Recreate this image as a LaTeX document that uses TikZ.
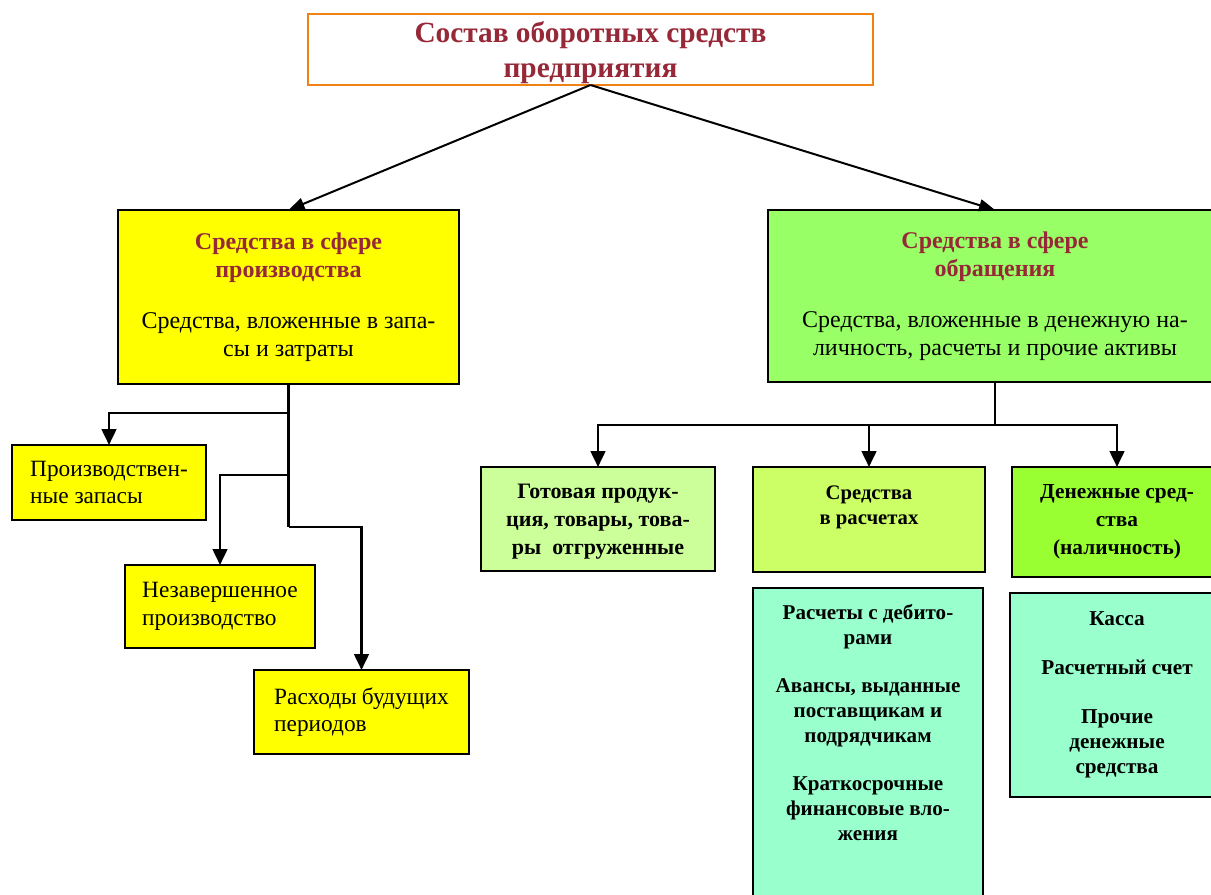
\documentclass[tikz,border=0pt]{standalone}
\usepackage{fontspec}
\setmainfont{Liberation Serif}
\usepackage{xcolor}
\usepackage{tikz}
\usetikzlibrary{arrows.meta}
\usetikzlibrary{calc}
\usetikzlibrary{positioning}

\definecolor{titleorange}{RGB}{240,130,20}
\definecolor{headred}{RGB}{150,40,55}
\definecolor{prodyellow}{RGB}{255,255,0}
\definecolor{circgreen}{RGB}{153,255,102}
\definecolor{gotgreen}{RGB}{204,255,153}
\definecolor{raschgreen}{RGB}{204,255,102}
\definecolor{dengreen}{RGB}{153,255,51}
\definecolor{listgreen}{RGB}{153,255,204}

\newcommand{\headfont}{\color{headred}\bfseries\fontsize{18}{21}\selectfont}

\tikzset{
  topline/.style={-{Triangle[length=12pt,width=9pt]}, line width=1.5pt},
  treeline/.style={-{Triangle[length=12pt,width=11pt]}, line width=2pt}
}

\begin{document}
\begin{tikzpicture}[x=0.75pt,y=-0.75pt,semithick]
 				 \tikzstyle{every node}=[outer sep=0pt]
 				 \tikzstyle{box}=[draw=black, line width=1.4pt, inner sep=0pt]
 				 \tikzstyle{bigbox}=[box, font=\fontsize{18}{21}\selectfont, align=center]
 				 \tikzstyle{smalltext}=[font=\fontsize{17.5}{20.5}\selectfont, align=left]
 				 \tikzstyle{boldtext}=[font=\fontsize{15.8}{18.75}\selectfont\bfseries, align=center]
 					 \useasboundingbox (0,0) rectangle (1211,895);
 					 \clip (0,0) rectangle (1211,895);
 					 % top
 					 \node[box, draw=titleorange, line width=2pt, fill=white, minimum width=423.75pt, minimum height=53.25pt,
 					       font=\fontsize{22}{26.5}\selectfont\bfseries, text=headred, align=center, text depth=-1pt]
 					       (title) at (590.5,49.5) {Состав оборотных средств\\предприятия};
 					 \node[bigbox, fill=prodyellow, minimum width=255.75pt, minimum height=130.5pt]
 					       (prod) at (288.5,297) {\headfont Средства в сфере\\\headfont производства\\[17pt]
 					       Средства, вложенные в запа-\\сы и затраты};
 					 \node[bigbox, fill=circgreen, minimum width=340.5pt, minimum height=129pt]
 					       (circ) at (995,296) {\headfont Средства в сфере\\\headfont обращения\\[17pt]
 					       Средства, вложенные в денежную на-\\личность, расчеты и прочие активы};
 					 % production side
 					 \node[box, fill=prodyellow, minimum width=145.5pt, minimum height=56.25pt, smalltext]
 					       (zapasy) at (109,482.5) {Производствен-\\ные запасы};
 					 \node[box, fill=prodyellow, minimum width=142.5pt, minimum height=62.25pt, smalltext]
 					       (nezav) at (220,606.5) {Незавершенное\\производство};
 					 \node[box, fill=prodyellow, minimum width=161.25pt, minimum height=63pt, smalltext, text width=131pt]
 					       (rashody) at (361.5,712) {Расходы\hfill будущих\\периодов};
 					 % circulation side
 					 \node[box, fill=gotgreen, minimum width=175.5pt, minimum height=78pt, boldtext,
 					       font=\fontsize{16.5}{21}\selectfont\bfseries, text depth=-4pt]
 					       (gotov) at (598,519) {Готовая продук-\\ция, товары, това-\\ры\ \ отгруженные};
 					 \node[box, fill=raschgreen, minimum width=174pt, minimum height=78.75pt, boldtext,
 					       font=\fontsize{15.5}{18.75}\selectfont\bfseries, text depth=22pt]
 					       (rasch) at (869,519.5) {Средства\\в расчетах};
 					 \node[box, fill=dengreen, minimum width=157.5pt, minimum height=82.5pt, boldtext,
 					       font=\fontsize{16}{21}\selectfont\bfseries]
 					       (den) at (1117,522) {Денежные сред-\\ства\\(наличность)};
 					 \node[box, fill=listgreen, minimum width=172.5pt, anchor=north, boldtext, inner ysep=12pt]
 					       (raschlist) at (868,588) {Расчеты с дебито-\\рами\\[17.5pt]Авансы, выданные\\поставщикам и\\подрядчикам\\[17.5pt]
 					       Краткосрочные\\финансовые вло-\\жения\\[70pt]\mbox{}};
 					 \node[box, fill=listgreen, minimum width=160.5pt, minimum height=153pt, boldtext, font=\fontsize{15.9}{18.75}\selectfont\bfseries]
 					       (kassa) at (1117,695) {Касса\\[18pt]Расчетный счет\\[18pt]Прочие\\денежные\\средства};
 					 % junctions
 					 \coordinate (p1) at ($(prod.south)+(0,29)$);
 					 \coordinate (p2) at ($(prod.south)+(0,91)$);
 					 \coordinate (p3) at ($(prod.south)+(0,143)$);
 					 \coordinate (c1) at ($(circ.south)+(0,43)$);
				\draw[topline] (title.south) -- (prod.north);
				\draw[topline] (title.south) -- (circ.north);
				\draw[line width=2pt] (prod.south) -- (p3);
				\draw[treeline] (p1) -| (zapasy.north);
				\draw[treeline] (p2) -| (nezav.north);
				\draw[treeline] (p3) -| (rashody.north);
				\draw[line width=2pt] (circ.south) -- (c1);
				\draw[treeline] (c1) -| (gotov.north);
				\draw[treeline] (c1) -| (rasch.north);
				\draw[treeline] (c1) -| (den.north);
\end{tikzpicture}
\end{document}
